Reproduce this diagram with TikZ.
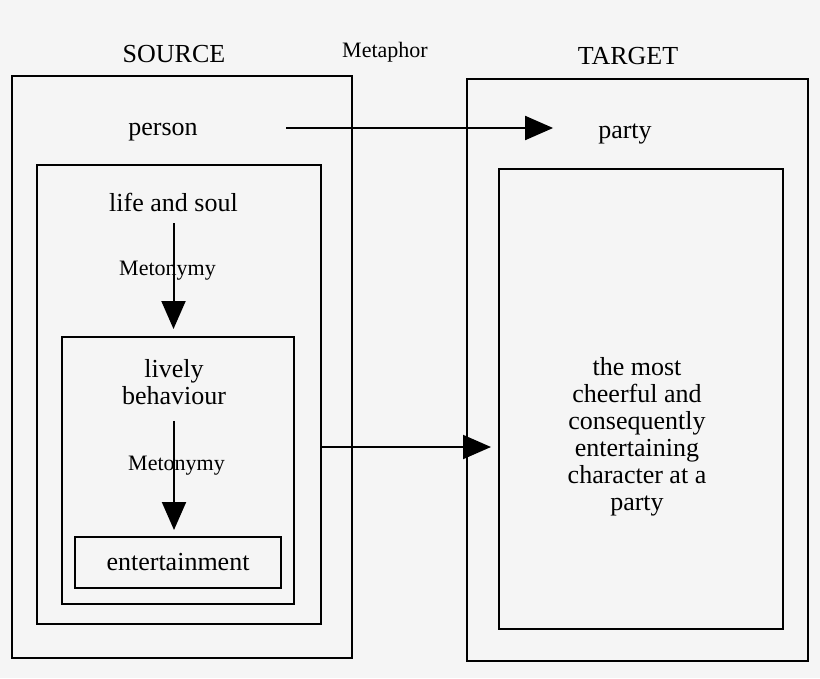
\documentclass[tikz,border=0pt]{standalone}
\usepackage{xcolor}
\usepackage{fontspec}
\setmainfont{Liberation Serif}
\usepackage{tikz}
\usetikzlibrary{arrows.meta, positioning}

\begin{document}
\begin{tikzpicture}[
    x=1pt, y=-1pt,
    frame/.style={
        rectangle,
        draw=black,
        line width=2pt,
        inner sep=0pt
    },
    word/.style={
        inner sep=0pt,
        align=center,
        font=\fontsize{26}{27}\selectfont
    },
    tag/.style={
        inner sep=0pt,
        font=\fontsize{22}{24}\selectfont
    },
    arrow/.style={-{Triangle[length=28pt, width=24pt]}, line width=2pt}
]

% Colors
\definecolor{paper}{HTML}{F5F5F5}

% Page
\fill[paper] (0,0) rectangle (820,678);
\useasboundingbox (0,0) rectangle (820,678);

% Source side
\node[word, anchor=base] (source) at (174,62) {SOURCE};
\node[frame, minimum width=340pt, minimum height=582pt] (srcbox) at (182,367) {};
\node[word, anchor=base] (person) at (163,135) {person};

\node[frame, minimum width=284pt, minimum height=459pt] (lifebox) at (179,394.5) {};
\node[word, anchor=base] (life) at (173.5,211) {life and soul};
\node[tag, anchor=base] (meto1) at (167.5,275) {Metonymy};

\node[frame, minimum width=232pt, minimum height=267pt] (livelybox) at (178,470.5) {};
\node[word] (lively) at (174,382) {lively\\behaviour};
\node[tag, anchor=base] (meto2) at (176.5,470) {Metonymy};

\node[frame, word, minimum width=206pt, minimum height=51pt] (entbox) at (178,562.5) {entertainment};

% Metaphor label
\node[tag, anchor=base] (metaphor) at (385,57.5) {Metaphor};

% Target side
\node[word, anchor=base] (target) at (628,64) {TARGET};
\node[frame, minimum width=341pt, minimum height=582pt] (tgtbox) at (637.5,370) {};
\node[word, anchor=base] (party) at (625,138) {party};

\node[frame, minimum width=284pt, minimum height=460pt] (tinner) at (641,399) {};
\node[word] (meaning) at (637,437) {the most\\cheerful and\\consequently\\entertaining\\character at a\\party};

% Arrows
\coordinate (metaS) at (286,128);
\coordinate (mapY) at (0,447);

\draw[arrow, shorten >=45pt] (metaS) -- (metaS -| party.west);

\draw[arrow, shorten <=12pt, shorten >=7pt] (life.south) -- (life.south |- livelybox.north);

\draw[arrow, shorten <=16pt, shorten >=6pt] (lively.south) -- (lively.south |- entbox.north);

\draw[arrow, shorten >=7pt] (lifebox.east |- mapY) -- (tinner.west |- mapY);

\end{tikzpicture}
\end{document}
